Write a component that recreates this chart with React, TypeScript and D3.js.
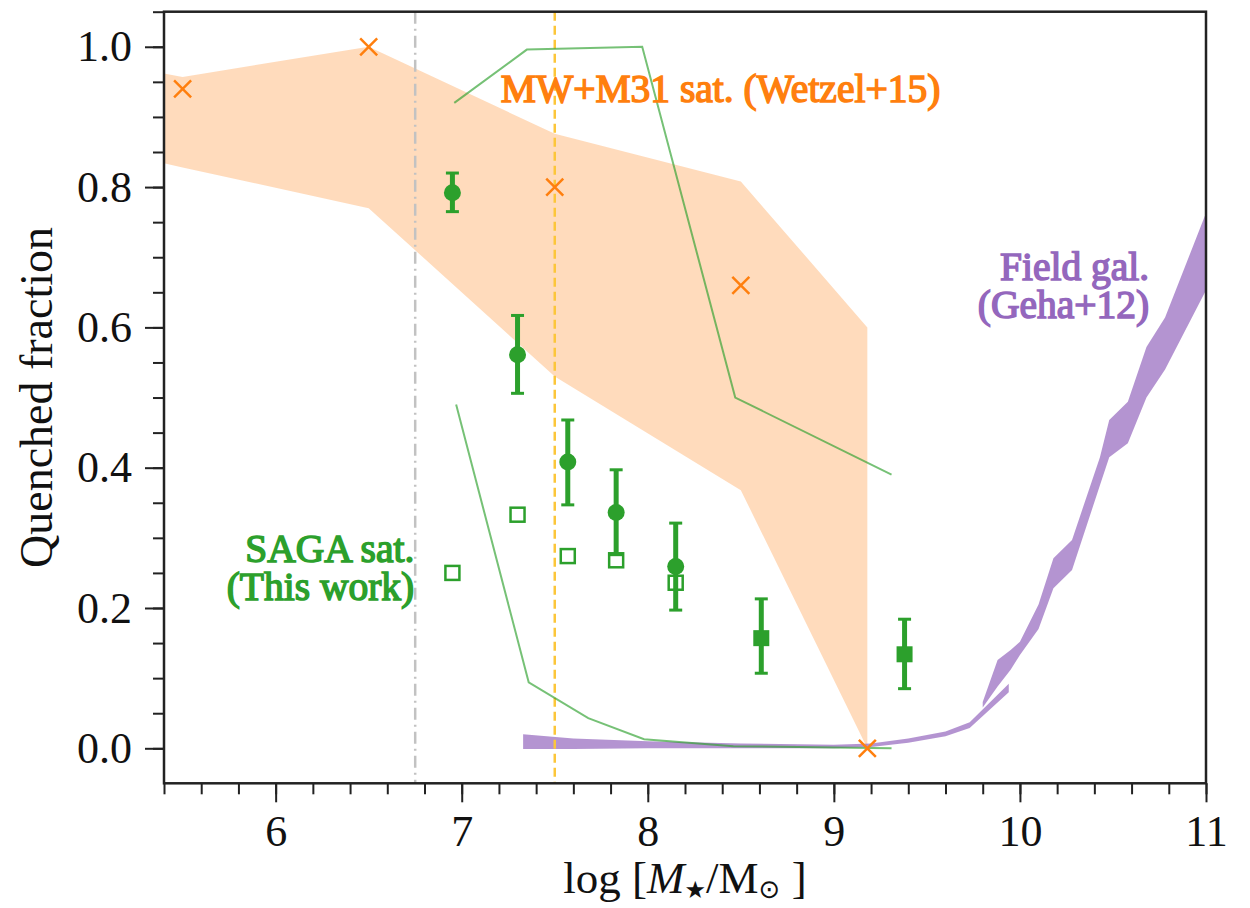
import { useEffect, useRef } from 'react'
import * as d3 from 'd3'

// SAGA satellites (this work): filled circles with error bars
const sagaX = [6.95, 7.30, 7.57, 7.83, 8.15]
const sagaQ = [0.792, 0.561, 0.408, 0.336, 0.259]
const sagaLo = [0.765, 0.506, 0.347, 0.276, 0.197]
const sagaHi = [0.820, 0.617, 0.468, 0.397, 0.321]
// SAGA filled squares at the high-mass end
const sagaSqX = [8.61, 9.38]
const sagaSqQ = [0.157, 0.134]
const sagaSqLo = [0.107, 0.085]
const sagaSqHi = [0.213, 0.184]
// SAGA open squares
const openX = [6.95, 7.30, 7.57, 7.83, 8.15]
const openQ = [0.250, 0.333, 0.274, 0.268, 0.236]

// model curves (thin green)
const modelHiX = [6.96, 7.35, 7.97, 8.47, 9.31]
const modelHiQ = [0.92, 0.996, 1.0, 0.50, 0.39]
const modelLoX = [6.97, 7.36, 7.68, 7.98, 8.46, 9.0, 9.31]
const modelLoQ = [0.49, 0.094, 0.043, 0.013, 0.003, 0.001, 0.0]

// MW+M31 satellites (Wetzel+15)
const wetzelX = [5.5, 6.5, 7.5, 8.5, 9.18]
const wetzelQ = [0.94, 1.0, 0.8, 0.66, 0.0]
const wetzelBandX = [5.4, 5.5, 6.5, 7.5, 8.5, 9.18]
const wetzelBandHi = [0.962, 0.957, 1.0, 0.876, 0.808, 0.6]
const wetzelBandLo = [0.834, 0.828, 0.77, 0.53, 0.368, 0.0]

// field galaxies (Geha+12), two bands
const gehaAX = [7.33, 7.6, 8.0, 8.5, 9.0, 9.2, 9.4, 9.6, 9.73, 9.94]
const gehaAHi = [0.020, 0.014, 0.010, 0.007, 0.005, 0.007, 0.014, 0.024, 0.037, 0.092]
const gehaALo = [-0.001, -0.001, 0.0, 0.0, 0.0, 0.002, 0.008, 0.017, 0.029, 0.080]
const gehaBX = [9.80, 9.88, 9.95, 10.0, 10.1, 10.18, 10.28, 10.43, 10.48, 10.58, 10.68, 10.78, 11.0]
const gehaBHi = [0.066, 0.126, 0.140, 0.152, 0.205, 0.271, 0.297, 0.415, 0.468, 0.494, 0.572, 0.614, 0.763]
const gehaBLo = [0.058, 0.088, 0.112, 0.133, 0.170, 0.228, 0.254, 0.375, 0.415, 0.435, 0.500, 0.540, 0.653]

// reference vertical lines
const grayLineX = 6.75
const goldLineX = 7.5

const xTicks = [6, 7, 8, 9, 10, 11]
const yTicks = [0, 0.2, 0.4, 0.6, 0.8, 1.0]

const GREEN = '#2ca02c'
const ORANGE = '#ff7f0e'
const PURPLE = '#9467bd'
const SERIF = 'Liberation Serif, Times New Roman, serif'

const W = 1250
const H = 908
const L = 164, R = 1206, T = 11.7, B = 783.3

export default function App() {
  const svgRef = useRef<SVGSVGElement>(null)

  useEffect(() => {
    document.body.style.margin = '0'
    const svg = d3.select(svgRef.current!)
    svg.selectAll('*').remove()

    const x = d3.scaleLinear().domain([5.4, 11]).range([L, R])
    const y = d3.scaleLinear().domain([-0.0499, 1.05]).range([B, T])

    svg.append('defs').append('clipPath').attr('id', 'plot-clip')
      .append('rect').attr('x', L).attr('y', T).attr('width', R - L).attr('height', B - T)
    const plot = svg.append('g').attr('clip-path', 'url(#plot-clip)')

    const band = (bx: number[], lo: number[], hi: number[]) =>
      d3.area<number>().x((i) => x(bx[i])).y0((i) => y(lo[i])).y1((i) => y(hi[i]))(d3.range(bx.length))

    plot.append('path').attr('d', band(wetzelBandX, wetzelBandLo, wetzelBandHi))
      .attr('fill', ORANGE).attr('fill-opacity', 0.28)
    plot.append('path').attr('d', band(gehaAX, gehaALo, gehaAHi)).attr('fill', PURPLE).attr('fill-opacity', 0.7)
    plot.append('path').attr('d', band(gehaBX, gehaBLo, gehaBHi)).attr('fill', PURPLE).attr('fill-opacity', 0.7)

    // vertical reference lines
    plot.append('line').attr('x1', x(grayLineX)).attr('x2', x(grayLineX)).attr('y1', T).attr('y2', B)
      .attr('stroke', '#c2c2c2').attr('stroke-width', 2.5).attr('stroke-dasharray', '12,5,2,5')
    plot.append('line').attr('x1', x(goldLineX)).attr('x2', x(goldLineX)).attr('y1', T).attr('y2', B)
      .attr('stroke', '#fcc63a').attr('stroke-width', 2.5).attr('stroke-dasharray', '9,5')

    const line = (lx: number[], ly: number[]) =>
      d3.line<number>().x((i) => x(lx[i])).y((i) => y(ly[i]))(d3.range(lx.length))
    ;[[modelHiX, modelHiQ], [modelLoX, modelLoQ]].forEach(([lx, ly]) => {
      plot.append('path').attr('d', line(lx, ly)).attr('fill', 'none')
        .attr('stroke', GREEN).attr('stroke-opacity', 0.65).attr('stroke-width', 2)
    })

    // text annotations (regular serif thickened with a stroke, so the bold stays a serif)
    const note = (tx: number, ty: number, s: string, color: string, anchor: string) =>
      svg.append('text').attr('x', x(tx)).attr('y', y(ty)).attr('text-anchor', anchor)
        .attr('fill', color).attr('stroke', color).attr('stroke-width', 1.5)
        .attr('font-family', SERIF).attr('font-size', 39.5).text(s)
    note(7.21, 0.921, 'MW+M31 sat. (Wetzel+15)', ORANGE, 'start')
    note(6.745, 0.265, 'SAGA sat.', GREEN, 'end')
    note(6.745, 0.211, '(This work)', GREEN, 'end')
    note(10.695, 0.667, 'Field gal.', PURPLE, 'end')
    note(10.695, 0.613, '(Geha+12)', PURPLE, 'end')

    // error bars
    const errs = (ex: number[], lo: number[], hi: number[]) => {
      const g = svg.append('g').attr('stroke', GREEN)
      ex.forEach((v, i) => {
        g.append('line').attr('x1', x(v)).attr('x2', x(v)).attr('y1', y(lo[i])).attr('y2', y(hi[i]))
          .attr('stroke-width', 5)
        ;[lo[i], hi[i]].forEach((c) => g.append('line').attr('x1', x(v) - 6.5).attr('x2', x(v) + 6.5)
          .attr('y1', y(c)).attr('y2', y(c)).attr('stroke-width', 3))
      })
    }
    errs(sagaX, sagaLo, sagaHi)
    errs(sagaSqX, sagaSqLo, sagaSqHi)

    svg.append('g').selectAll('rect').data(d3.range(openX.length)).join('rect')
      .attr('x', (i) => x(openX[i]) - 7).attr('y', (i) => y(openQ[i]) - 7)
      .attr('width', 14).attr('height', 14).attr('fill', 'none')
      .attr('stroke', GREEN).attr('stroke-width', 2.5)
    svg.append('g').selectAll('circle').data(d3.range(sagaX.length)).join('circle')
      .attr('cx', (i) => x(sagaX[i])).attr('cy', (i) => y(sagaQ[i])).attr('r', 8.5).attr('fill', GREEN)
    svg.append('g').selectAll('rect').data(d3.range(sagaSqX.length)).join('rect')
      .attr('x', (i) => x(sagaSqX[i]) - 8).attr('y', (i) => y(sagaSqQ[i]) - 8)
      .attr('width', 16).attr('height', 16).attr('fill', GREEN)

    svg.append('g').selectAll('path').data(d3.range(wetzelX.length)).join('path')
      .attr('d', (i) => {
        const cx = x(wetzelX[i]), cy = y(wetzelQ[i]), s = 8.5
        return `M${cx - s},${cy - s}L${cx + s},${cy + s}M${cx - s},${cy + s}L${cx + s},${cy - s}`
      })
      .attr('stroke', ORANGE).attr('stroke-width', 2.5).attr('fill', 'none')

    // axes
    const styleAxis = (g: d3.Selection<SVGGElement, unknown, null, undefined>) => {
      g.select('.domain').remove()
      g.selectAll('line').attr('stroke', '#222').attr('stroke-width', 2)
      g.selectAll('text').attr('font-family', SERIF).attr('font-size', 44).attr('fill', '#111')
    }
    const xMinor = d3.range(0, 29).map((i) => 5.4 + i * 0.2)
    const yMinor = d3.range(0, 22).map((i) => i * 0.05)
    svg.append('g').attr('transform', `translate(0,${B})`)
      .call(d3.axisBottom(x).tickValues(xMinor).tickSize(11).tickFormat(() => '')).call(styleAxis)
    svg.append('g').attr('transform', `translate(0,${B})`)
      .call(d3.axisBottom(x).tickValues(xTicks).tickSize(19).tickPadding(12).tickFormat(d3.format('d')))
      .call(styleAxis)
    svg.append('g').attr('transform', `translate(${L},0)`)
      .call(d3.axisLeft(y).tickValues(yMinor).tickSize(11).tickFormat(() => '')).call(styleAxis)
    svg.append('g').attr('transform', `translate(${L},0)`)
      .call(d3.axisLeft(y).tickValues(yTicks).tickSize(19).tickPadding(13).tickFormat(d3.format('.1f')))
      .call(styleAxis)

    svg.append('rect').attr('x', L).attr('y', T).attr('width', R - L).attr('height', B - T)
      .attr('fill', 'none').attr('stroke', '#222').attr('stroke-width', 2.5)

    // axis labels
    svg.append('text').attr('transform', `translate(52,${(T + B) / 2}) rotate(-90)`)
      .attr('text-anchor', 'middle').attr('font-family', SERIF).attr('font-size', 46)
      .attr('fill', '#111').text('Quenched fraction')
    const xl = svg.append('text').attr('x', (L + R) / 2).attr('y', 893).attr('text-anchor', 'middle')
      .attr('font-family', SERIF).attr('font-size', 45).attr('fill', '#111')
    xl.append('tspan').text('log [')
    xl.append('tspan').attr('font-style', 'italic').text('M')
    xl.append('tspan').attr('font-size', 24).attr('dy', 5).attr('font-family', 'DejaVu Sans, sans-serif').text('★')
    xl.append('tspan').attr('dy', -5).text('/M')
    xl.append('tspan').attr('font-size', 26).attr('dy', 5).attr('font-family', 'DejaVu Sans, sans-serif').text('⊙')
    xl.append('tspan').attr('dy', -5).text(' ]')
  }, [])

  return <svg ref={svgRef} width={W} height={H} style={{ display: 'block', background: '#fff' }} />
}
